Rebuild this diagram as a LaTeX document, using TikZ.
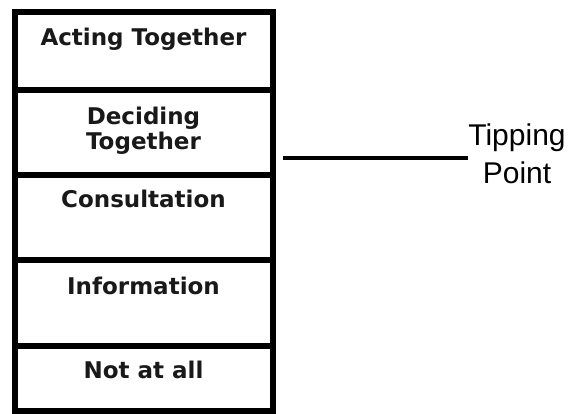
\documentclass[tikz,border=0pt]{standalone}
\usepackage{fontspec}
\newfontfamily\levelfont{DejaVu Sans}
\newfontfamily\tipfont{Liberation Sans}
\usetikzlibrary{positioning}

\begin{document}
\begin{tikzpicture}
[x=1pt,y=-1pt,
level/.style={shape=rectangle,draw=black,line width=6pt,inner sep=0pt,outer sep=0pt,minimum width=258pt},
caption/.style={inner sep=0pt,align=center,text=black!90,font=\levelfont\bfseries\fontsize{23}{25}\selectfont},
tipline/.style={line width=3.5pt},
tiptext/.style={inner sep=0pt,align=center,font=\tipfont\fontsize{30}{38}\selectfont}]

\useasboundingbox[fill=white] (0,0) rectangle (571,414);

\node (acting) [level,minimum height=78pt,anchor=north] at (143.5,12.5) {};
\node (deciding) [level,minimum height=85pt,below=0pt of acting.south] {};
\node (consult) [level,minimum height=84.5pt,below=0pt of deciding.south] {};
\node (inform) [level,minimum height=86pt,below=0pt of consult.south] {};
\node (notatall) [level,minimum height=65pt,below=0pt of inform.south] {};

\node (actingtxt) [caption,below=15pt of acting.north] {Acting Together};
\node (decidingtxt) [caption,below=16.5pt of deciding.north] {Deciding\\Together};
\node (consulttxt) [caption,below=14pt of consult.north] {Consultation};
\node (informtxt) [caption,below=16.5pt of inform.north] {Information};
\node (notatalltxt) [caption,below=14.5pt of notatall.north] {Not at all};

\coordinate (tipstart) at (283,158);
\node (tipping) [tiptext,anchor=north] at (517,124) {Tipping\\Point};
\draw[tipline] (tipstart) -- (tipstart -| tipping.west);

\end{tikzpicture}
\end{document}
